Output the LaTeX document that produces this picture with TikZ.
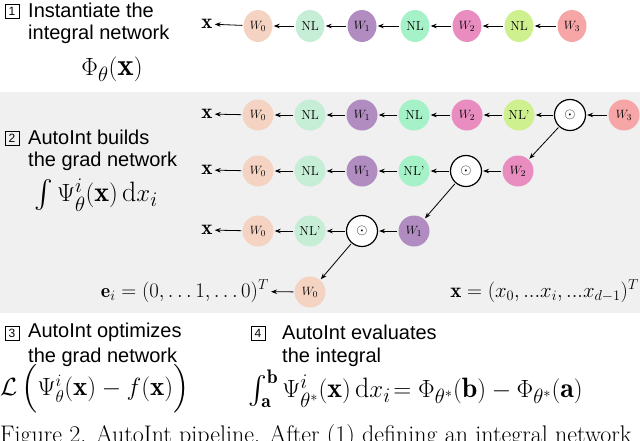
\documentclass[tikz,border=0pt]{standalone}
\usepackage{fontspec}
\usepackage{amsmath,amssymb}
\newfontfamily\lab{Liberation Sans}
\usetikzlibrary{arrows.meta,shapes.geometric}
\definecolor{cwa}{HTML}{F5D3C2}
\definecolor{cnla}{HTML}{C6EDD6}
\definecolor{cwb}{HTML}{B08CC0}
\definecolor{cnlb}{HTML}{A6F2C8}
\definecolor{cwc}{HTML}{E98DC0}
\definecolor{cnlc}{HTML}{CFF08E}
\definecolor{cwd}{HTML}{F7A6A8}
\definecolor{band}{HTML}{F0F0F0}
\tikzset{
 x=1pt,y=-1pt,
 nn/.style={ellipse,minimum width=29pt,minimum height=32pt,inner sep=0pt,font=\fontsize{13}{13}\selectfont},
 cn/.style={circle,minimum size=31pt,inner sep=0pt,font=\fontsize{13}{13}\selectfont},
 od/.style={circle,draw,line width=1.2pt,fill=white,minimum size=31pt,inner sep=0pt,font=\fontsize{15}{15}\selectfont},
 ar/.style={-{Stealth[length=6pt,width=4.5pt]},line width=0.8pt,shorten >=1pt,shorten <=1pt},
 lt/.style={font=\lab\fontsize{20}{20}\selectfont,anchor=west,inner sep=0pt},
 bx/.style={draw,line width=0.6pt,font=\lab\fontsize{12}{12}\selectfont,inner sep=1pt,minimum size=14pt},
 xl/.style={font=\fontsize{21}{21}\selectfont,inner sep=1pt}
}
\begin{document}
\begin{tikzpicture}
\useasboundingbox (0,0) rectangle (640,440);
\clip (0,0) rectangle (640,440);
\fill[band] (0,92) rectangle (640,313);
% labels
\node[bx] (b1) at (12,11) {1};
\node[lt] (t1a) at (28,10) {Instantiate the};
\node[lt] (t1b) at (28,34) {integral network};
\node[font=\fontsize{31}{31}\selectfont] (phi) at (112,69) {$\Phi_\theta(\mathbf{x})$};
\node[bx] (b2) at (12,138) {2};
\node[lt] (t2a) at (28,137) {AutoInt builds};
\node[lt] (t2b) at (28,161) {the grad network};
\node[font=\fontsize{28}{28}\selectfont] (psi) at (96,195) {$\int \Psi^i_\theta(\mathbf{x})\,\mathrm{d}x_i$};
\node[bx] (b3) at (12,333) {3};
\node[lt] (t3a) at (28,332) {AutoInt optimizes};
\node[lt] (t3b) at (28,357) {the grad network};
\node[font=\fontsize{27}{27}\selectfont,anchor=west,inner sep=0pt] (loss) at (0,389) {$\mathcal{L}\,\Bigl(\Psi^i_\theta(\mathbf{x})-f(\mathbf{x})\Bigr)$};
\node[bx] (b4) at (258,333) {4};
\node[lt] (t4a) at (282,332) {AutoInt evaluates};
\node[lt] (t4b) at (282,357) {the integral};
\node[font=\fontsize{28}{28}\selectfont,anchor=west,inner sep=0pt] (ev) at (248,389) {$\int_{\mathbf{a}}^{\mathbf{b}}\Psi^i_{\theta^*}(\mathbf{x})\,\mathrm{d}x_i\!=\Phi_{\theta^*}(\mathbf{b})-\Phi_{\theta^*}(\mathbf{a})$};
\node[font=\fontsize{24}{24}\selectfont,anchor=west,inner sep=0pt] (cap) at (0,437) {Figure 2. AutoInt pipeline. After (1) defining an integral network};
% row 0
\node[xl] (x0) at (207,24) {$\mathbf{x}$};
\node[nn,fill=cwa] (a0) at (258,26) {$W_0$};
\node[nn,fill=cnla] (a1) at (310,26) {NL};
\node[nn,fill=cwb] (a2) at (362,26) {$W_1$};
\node[nn,fill=cnlb] (a3) at (415,26) {NL};
\node[nn,fill=cwc] (a4) at (467,26) {$W_2$};
\node[nn,fill=cnlc] (a5) at (519,26) {NL};
\node[nn,fill=cwd] (a6) at (572,26) {$W_3$};
\foreach \s/\t in {a6/a5,a5/a4,a4/a3,a3/a2,a2/a1,a1/a0,a0/x0} \draw[ar] (\s) -- (\t);
% row 1
\node[xl] (x1) at (207,114) {$\mathbf{x}$};
\node[cn,fill=cwa] (r0) at (258,115) {$W_0$};
\node[cn,fill=cnla] (r1) at (310,115) {NL};
\node[cn,fill=cwb] (r2) at (362,115) {$W_1$};
\node[cn,fill=cnlb] (r3) at (414,115) {NL};
\node[cn,fill=cwc] (r4) at (467,115) {$W_2$};
\node[cn,fill=cnlc] (r5) at (519,115) {NL'};
\node[od] (o1) at (570,115) {$\odot$};
\node[cn,fill=cwd] (r6) at (624,115) {$W_3$};
\foreach \s/\t in {r6/o1,o1/r5,r5/r4,r4/r3,r3/r2,r2/r1,r1/r0,r0/x1} \draw[ar] (\s) -- (\t);
% row 2
\node[xl] (x2) at (207,170) {$\mathbf{x}$};
\node[cn,fill=cwa] (s0) at (258,171) {$W_0$};
\node[cn,fill=cnla] (s1) at (310,171) {NL};
\node[cn,fill=cwb] (s2) at (362,171) {$W_1$};
\node[cn,fill=cnlb] (s3) at (414,171) {NL'};
\node[od] (o2) at (466,171) {$\odot$};
\node[cn,fill=cwc] (s4) at (518,171) {$W_2$};
\foreach \s/\t in {s4/o2,o2/s3,s3/s2,s2/s1,s1/s0,s0/x2} \draw[ar] (\s) -- (\t);
\draw[ar] (o1) -- (s4);
% row 3
\node[xl] (x3) at (207,230) {$\mathbf{x}$};
\node[cn,fill=cwa] (u0) at (258,231) {$W_0$};
\node[cn,fill=cnla] (u1) at (310,231) {NL'};
\node[od] (o3) at (362,231) {$\odot$};
\node[cn,fill=cwb] (u2) at (414,231) {$W_1$};
\foreach \s/\t in {u2/o3,o3/u1,u1/u0,u0/x3} \draw[ar] (\s) -- (\t);
\draw[ar] (o2) -- (u2);
% row 4
\node[cn,fill=cwa] (v0) at (310,292) {$W_0$};
\node[font=\fontsize{20}{20}\selectfont,anchor=east,inner sep=1pt] (ei) at (270,291) {$\mathbf{e}_i=(0,\ldots1,\ldots0)^T$};
\draw[ar] (v0) -- (ei);
\draw[ar] (o3) -- (v0);
\node[font=\fontsize{21}{21}\selectfont,anchor=east,inner sep=1pt] (xv) at (640,291) {$\mathbf{x}=(x_0,...x_i,...x_{d-1})^T$};
\end{tikzpicture}
\end{document}
